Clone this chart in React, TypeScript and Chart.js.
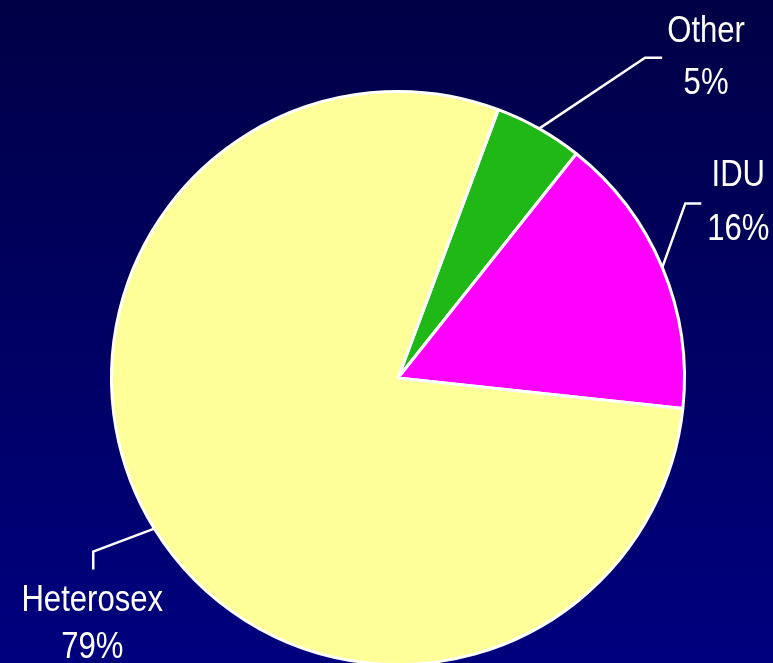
import React, { useEffect, useRef } from "react";
import { Chart, registerables } from "chart.js";

Chart.register(...registerables);

const categories = ["Other", "IDU", "Heterosex"];
const values = [5, 16, 79];
const percentLabels = ["5%", "16%", "79%"];
const sliceColors = ["#1fb817", "#ff00ff", "#ffff99"];

// label layout: elbow offset from slice anchor, tail offset from elbow, text offset from elbow (+ line gap)
const labelLayout = [
  { elbow: [106, -71], tail: [17, 0], text: [61, -26, 52] },
  { elbow: [23, -64], tail: [16, 0], text: [53, -28, 54] },
  { elbow: [-61, 23], tail: [0, 18], text: [-1, 49, 47] },
];

const FONT = "'Liberation Sans', Arial, sans-serif";
const NARROW = 0.84;

const bgPlugin = {
  id: "bgGradient",
  beforeDraw(chart: any) {
    const { ctx, width } = chart;
    const g = ctx.createLinearGradient(0, 0, 0, 663);
    g.addColorStop(0, "#000046");
    g.addColorStop(1, "#00007f");
    ctx.save();
    ctx.fillStyle = g;
    ctx.fillRect(0, 0, width, chart.height);
    ctx.restore();
  },
};

const labelPlugin = {
  id: "leaderLabels",
  afterDraw(chart: any) {
    const { ctx } = chart;
    const meta = chart.getDatasetMeta(0);
    ctx.save();
    meta.data.forEach((arc: any, i: number) => {
      const mid = (arc.startAngle + arc.endAngle) / 2;
      const ax = arc.x + Math.cos(mid) * arc.outerRadius;
      const ay = arc.y + Math.sin(mid) * arc.outerRadius;
      const L = labelLayout[i];
      const ex = ax + L.elbow[0];
      const ey = ay + L.elbow[1];
      ctx.strokeStyle = "#ffffff";
      ctx.lineWidth = 2.5;
      ctx.beginPath();
      ctx.moveTo(ax, ay);
      ctx.lineTo(ex, ey);
      ctx.lineTo(ex + L.tail[0], ey + L.tail[1]);
      ctx.stroke();
      const tx = ex + L.text[0];
      const ty = ey + L.text[1];
      ctx.save();
      ctx.translate(tx, ty);
      ctx.scale(NARROW, 1);
      ctx.fillStyle = "#ffffff";
      ctx.font = `37px ${FONT}`;
      ctx.textAlign = "center";
      ctx.textBaseline = "middle";
      ctx.fillText(categories[i], 0, 0);
      ctx.fillText(percentLabels[i], 0, L.text[2]);
      ctx.restore();
    });
    ctx.restore();
  },
};

export default function App() {
  const ref = useRef<HTMLCanvasElement | null>(null);
  useEffect(() => {
    document.body.style.margin = "0";
    if (!ref.current) return;
    const chart = new Chart(ref.current, {
      type: "pie",
      data: {
        labels: categories,
        datasets: [
          {
            data: values,
            backgroundColor: sliceColors,
            borderColor: "#ffffff",
            borderWidth: 3,
          },
        ],
      },
      options: {
        responsive: false,
        animation: false,
        devicePixelRatio: 1,
        rotation: 20.5,
        layout: { padding: { left: 110, right: 87, top: 90, bottom: 34 } },
        plugins: {
          legend: { display: false },
          tooltip: { enabled: false },
          title: { display: false },
        },
      },
      plugins: [bgPlugin, labelPlugin],
    });
    return () => chart.destroy();
  }, []);
  return (
    <div style={{ position: "absolute", left: 0, top: 0, width: 773, height: 663, overflow: "hidden" }}>
      <canvas ref={ref} width={773} height={700} style={{ display: "block", width: 773, height: 700 }} />
    </div>
  );
}
